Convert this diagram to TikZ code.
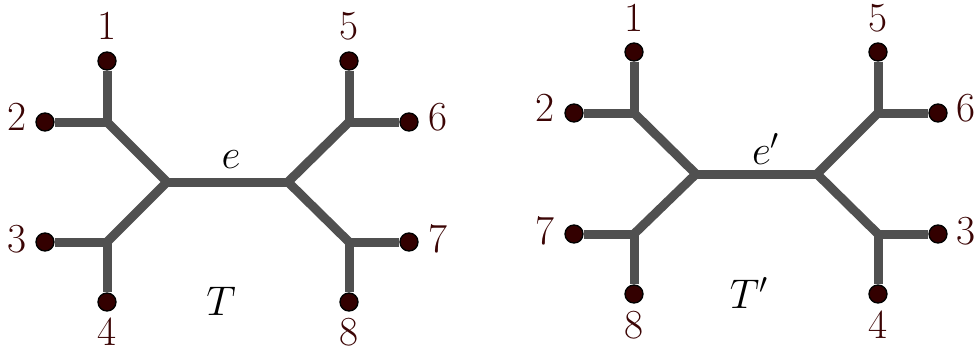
\documentclass[tikz,border=0pt]{standalone}
\begin{document}
\begin{tikzpicture}[x=0.75pt,y=-0.75pt,
  edge/.style={line width=6.75pt,draw={rgb,255:red,80;green,80;blue,80}},
  leaf/.style={circle,fill={rgb,255:red,51;green,0;blue,0},draw=black,line width=1pt,minimum size=13.5pt,inner sep=0pt},
  lab/.style={text={rgb,255:red,60;green,5;blue,5},font=\fontsize{31}{36}\selectfont,inner sep=0pt},
  tl/.style={font=\fontsize{20.74}{25}\selectfont,inner sep=0pt,scale=1.5,transform shape}]
\useasboundingbox (0,0) rectangle (979,351);
% Left tree T
\coordinate (a) at (167,182);
\coordinate (b) at (288,182);
\coordinate (p12) at (107,122);
\coordinate (p34) at (107,242);
\coordinate (p56) at (349,122);
\coordinate (p78) at (349,242);
\draw[edge] (a) -- (b);
\draw[edge] (p12) -- (a) -- (p34);
\draw[edge] (p56) -- (b) -- (p78);
\node[leaf] (l1) at (107,61) {};
\node[leaf] (l2) at (45,122) {};
\node[leaf] (l3) at (45,242) {};
\node[leaf] (l4) at (107,302) {};
\node[leaf] (l5) at (349,61) {};
\node[leaf] (l6) at (409,122) {};
\node[leaf] (l7) at (409,242) {};
\node[leaf] (l8) at (349,302) {};
\draw[edge] (l1) -- (p12) -- (l2);
\draw[edge] (l3) -- (p34) -- (l4);
\draw[edge] (l5) -- (p56) -- (l6);
\draw[edge] (l7) -- (p78) -- (l8);
\node[lab] (t1) at (107,26) {1};
\node[lab] (t2) at (17,117) {2};
\node[lab] (t3) at (17,239) {3};
\node[lab] (t4) at (107,332) {4};
\node[lab] (t5) at (349,26) {5};
\node[lab] (t6) at (438,117) {6};
\node[lab] (t7) at (438,239) {7};
\node[lab] (t8) at (349,332) {8};
\node[tl] (e) at (231,160) {$e$};
\node[tl] (T) at (221,301) {$T$};
% Right tree T'
\coordinate (c) at (696,174);
\coordinate (d) at (817,174);
\coordinate (q12) at (634,113);
\coordinate (q78) at (634,234);
\coordinate (q56) at (878,113);
\coordinate (q34) at (878,234);
\draw[edge] (c) -- (d);
\draw[edge] (q12) -- (c) -- (q78);
\draw[edge] (q56) -- (d) -- (q34);
\node[leaf] (r1) at (634,52) {};
\node[leaf] (r2) at (574,113) {};
\node[leaf] (r7) at (574,234) {};
\node[leaf] (r8) at (634,294) {};
\node[leaf] (r5) at (878,52) {};
\node[leaf] (r6) at (938,113) {};
\node[leaf] (r3) at (938,234) {};
\node[leaf] (r4) at (878,294) {};
\draw[edge] (r1) -- (q12) -- (r2);
\draw[edge] (r7) -- (q78) -- (r8);
\draw[edge] (r5) -- (q56) -- (r6);
\draw[edge] (r3) -- (q34) -- (r4);
\node[lab] (u1) at (634,18) {1};
\node[lab] (u2) at (545,108) {2};
\node[lab] (u7) at (545,231) {7};
\node[lab] (u8) at (634,325) {8};
\node[lab] (u5) at (878,18) {5};
\node[lab] (u6) at (966,108) {6};
\node[lab] (u3) at (966,231) {3};
\node[lab] (u4) at (878,325) {4};
\node[tl] (ep) at (766,149) {$e'$};
\node[tl] (Tp) at (749,293) {$T'$};
\end{tikzpicture}
\end{document}
